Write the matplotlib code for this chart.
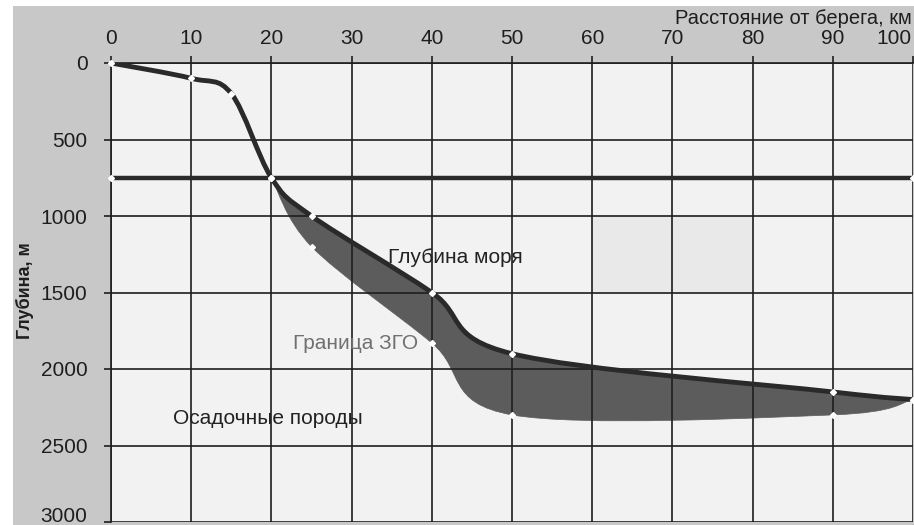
import numpy as np
import matplotlib
matplotlib.use("Agg")
import matplotlib.pyplot as plt
import matplotlib.transforms as mtransforms
from matplotlib.path import Path
from matplotlib.patches import PathPatch, Rectangle

plt.rcParams['font.family'] = ['Liberation Sans', 'DejaVu Sans']

# --- data ---
sea_x = [0, 10, 15, 20, 25, 40, 50, 90, 100]
sea_depth = [0, 100, 200, 750, 1000, 1500, 1900, 2150, 2200]
zgo_x = [20, 25, 40, 50, 90, 100]
zgo_depth = [750, 1200, 1830, 2300, 2300, 2200]
level_x = [0, 100]
level_depth = [750, 750]
x_ticks = [0, 10, 20, 30, 40, 50, 60, 70, 80, 90, 100]
y_ticks = [0, 500, 1000, 1500, 2000, 2500, 3000]


def smooth_segments(xs, ys):
    """Catmull-Rom style cubic Bezier segments through the points."""
    P = np.column_stack([xs, ys]).astype(float)
    n = len(P)
    segs = []
    for i in range(n - 1):
        p0 = P[i - 1] if i > 0 else P[i]
        p1 = P[i]
        p2 = P[i + 1]
        p3 = P[i + 2] if i + 2 < n else P[i + 1]
        c1 = p1 + (p2 - p0) / 6.0
        c2 = p2 - (p3 - p1) / 6.0
        segs.append((p1, c1, c2, p2))
    return segs


def segs_to_verts(segs):
    verts = [segs[0][0]]
    codes = [Path.MOVETO]
    for (_, c1, c2, p2) in segs:
        verts += [c1, c2, p2]
        codes += [Path.CURVE4] * 3
    return verts, codes


fig = plt.figure(figsize=(9.14, 5.25), dpi=100, facecolor='white')
fig.patches.append(Rectangle((13 / 914, 0), 1, 1 - 6 / 525, transform=fig.transFigure,
                             facecolor='#c8c8c8', edgecolor='none', zorder=-10))

ax = fig.add_axes([111 / 914, 3 / 525, 802 / 914, 459 / 525])
ax.set_facecolor('#f2f2f2')
ax.set_xlim(0, 100)
ax.set_ylim(3000, 0)

# faint shaded patch (scan artefact in the original)
ax.add_patch(Rectangle((60, 1000), 20, 500, facecolor='#e9e9e9', edgecolor='none', zorder=0.5))

# filled zone between sea floor and ZGO boundary
up_segs = smooth_segments(sea_x, sea_depth)
lo_segs = smooth_segments(zgo_x, zgo_depth)
start = sea_x.index(zgo_x[0])
up_part = up_segs[start:]
verts, codes = segs_to_verts(up_part)
for (p1, c1, c2, p2) in reversed(lo_segs):
    verts += [c2, c1, p1]
    codes += [Path.CURVE4] * 3
verts.append(verts[0])
codes.append(Path.CLOSEPOLY)
ax.add_patch(PathPatch(Path(verts, codes), facecolor='#5c5c5c', edgecolor='#5c5c5c',
                       lw=0.5, zorder=1))

# sea depth line
v, c = segs_to_verts(up_segs)
ax.add_patch(PathPatch(Path(v, c), facecolor='none', edgecolor='#2a2a2a', lw=3.5,
                       zorder=3, capstyle='round'))

# level line
ax.plot(level_x, level_depth, color='#2a2a2a', lw=3.2, zorder=3, solid_capstyle='butt')

# markers
mk = dict(marker='D', ms=3.0, mfc='white', mec='white', ls='none', zorder=4, clip_on=False)
ax.plot(sea_x, sea_depth, **mk)
ax.plot(zgo_x, zgo_depth, **mk)
ax.plot(level_x, level_depth, **mk)

# grid & axes
ax.set_xticks(x_ticks)
ax.set_yticks(y_ticks)
ax.set_axisbelow(False)
ax.grid(True, color='#1e1e1e', lw=1.2)
ax.xaxis.tick_top()
ax.tick_params(axis='both', direction='out', length=5, width=1.2, color='#1e1e1e',
               labelsize=15, labelcolor='#1e1e1e')
ax.tick_params(axis='x', pad=6)
ax.tick_params(axis='y', pad=12)
for s in ['left', 'top']:
    ax.spines[s].set_color('#1e1e1e')
    ax.spines[s].set_linewidth(1.2)
for s in ['right', 'bottom']:
    ax.spines[s].set_visible(False)

fig.canvas.draw()
last_x = ax.xaxis.get_major_ticks()[-1].label2
last_x.set_horizontalalignment('right')
last_x.set_transform(last_x.get_transform() +
                     mtransforms.ScaledTranslation(-2 / 100, 0, fig.dpi_scale_trans))
last_y = ax.yaxis.get_major_ticks()[-1].label1
last_y.set_transform(last_y.get_transform() +
                     mtransforms.ScaledTranslation(0, 7 / 100, fig.dpi_scale_trans))

# labels
ax.text(34.5, 1270, 'Глубина моря', fontsize=15, color='#222222', va='center', ha='left', zorder=5)
ax.text(22.7, 1831, 'Граница ЗГО', fontsize=15, color='#707070', va='center', ha='left', zorder=5)
ax.text(7.7, 2322, 'Осадочные породы', fontsize=15, color='#222222', va='center', ha='left', zorder=5)

fig.text(912 / 914, 1 - 19 / 525, 'Расстояние от берега, км', fontsize=14.5,
         color='#1e1e1e', ha='right', va='center')
fig.text(25 / 914, 1 - 291 / 525, 'Глубина, м', fontsize=13, fontweight='bold',
         color='#1e1e1e', ha='center', va='center', rotation=90)

fig.savefig('out.png', dpi=100, facecolor=fig.get_facecolor())
